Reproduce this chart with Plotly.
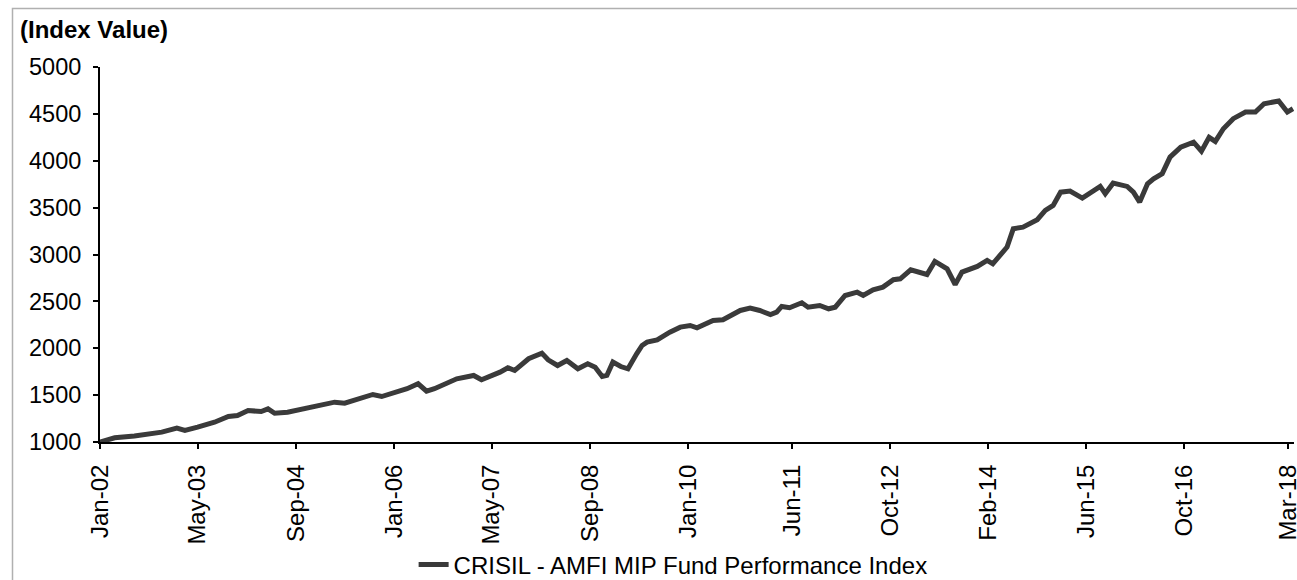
import plotly.graph_objects as go

dates = [
    "2002-01-01", "2002-03-15", "2002-06-21", "2002-09-01", "2002-11-04", "2003-01-18", "2003-02-27",
    "2003-05-01", "2003-07-24", "2003-10-01", "2003-11-15", "2004-01-07", "2004-03-12", "2004-04-15",
    "2004-05-18", "2004-07-21", "2004-10-01", "2005-01-10", "2005-03-12", "2005-05-01", "2005-07-15",
    "2005-09-18", "2005-11-01", "2006-03-07", "2006-05-01", "2006-06-12", "2006-07-21", "2006-11-09",
    "2007-02-01", "2007-03-12", "2007-06-12", "2007-07-21", "2007-08-24", "2007-11-01", "2008-01-06",
    "2008-02-06", "2008-03-24", "2008-05-09", "2008-07-03", "2008-08-21", "2008-09-27", "2008-11-01",
    "2008-11-24", "2008-12-24", "2009-02-01", "2009-03-09", "2009-04-21", "2009-05-18", "2009-06-12",
    "2009-08-01", "2009-10-03", "2009-11-24", "2010-01-12", "2010-02-15", "2010-05-06", "2010-06-24",
    "2010-09-18", "2010-11-06", "2010-12-24", "2011-02-15", "2011-03-18", "2011-04-12", "2011-05-21",
    "2011-07-21", "2011-08-21", "2011-10-18", "2011-12-01", "2012-01-03", "2012-02-21", "2012-04-21",
    "2012-05-21", "2012-07-09", "2012-08-27", "2012-10-18", "2012-11-21", "2013-01-12", "2013-04-03",
    "2013-05-12", "2013-07-12", "2013-08-21", "2013-09-24", "2013-12-09", "2014-01-27", "2014-02-24",
    "2014-05-06", "2014-06-06", "2014-07-24", "2014-10-03", "2014-11-12", "2014-12-21", "2015-01-27",
    "2015-03-15", "2015-05-15", "2015-06-24", "2015-08-12", "2015-09-06", "2015-10-15", "2015-12-24",
    "2016-01-24", "2016-02-24", "2016-04-03", "2016-05-03", "2016-06-15", "2016-07-24", "2016-09-15",
    "2016-11-18", "2016-12-27", "2017-02-03", "2017-03-06", "2017-04-15", "2017-06-03", "2017-08-03",
    "2017-09-21", "2017-11-03", "2018-01-15", "2018-02-27", "2018-03-27",
]

index_values = [
    1000, 1045, 1065, 1085, 1105, 1148, 1123,
    1158, 1211, 1272, 1283, 1336, 1325, 1354,
    1307, 1318, 1354, 1400, 1425, 1414, 1461,
    1507, 1485, 1568, 1621, 1542, 1568, 1674,
    1710, 1664, 1745, 1792, 1763, 1888, 1948,
    1877, 1816, 1870, 1781, 1834, 1798, 1699,
    1710, 1852, 1805, 1781, 1941, 2030, 2065,
    2090, 2172, 2225, 2243, 2218, 2296, 2304,
    2403, 2428, 2403, 2360, 2385, 2446, 2432,
    2485, 2438, 2456, 2421, 2438, 2563, 2598,
    2563, 2624, 2652, 2731, 2741, 2837, 2787,
    2926, 2848, 2680, 2812, 2873, 2937, 2901,
    3079, 3275, 3292, 3371, 3470, 3523, 3665,
    3676, 3601, 3655, 3726, 3648, 3761, 3726,
    3665, 3559, 3755, 3808, 3862, 4039, 4146,
    4199, 4103, 4250, 4206, 4342, 4449, 4519,
    4519, 4608, 4637, 4519, 4555,
]

tick_dates = ["2002-01-01", "2003-05-01", "2004-09-01", "2006-01-01", "2007-05-01", "2008-09-01",
              "2010-01-01", "2011-06-01", "2012-10-01", "2014-02-01", "2015-06-01", "2016-10-01",
              "2018-03-01"]
tick_labels = ["Jan-02", "May-03", "Sep-04", "Jan-06", "May-07", "Sep-08", "Jan-10", "Jun-11",
               "Oct-12", "Feb-14", "Jun-15", "Oct-16", "Mar-18"]

series_name = "CRISIL - AMFI MIP Fund Performance Index"
FONT = "Liberation Sans, Arial, sans-serif"

W, H = 1297, 580
L, R, T, B = 100, 3, 67, 138
PW, PH = W - L - R, H - T - B

fig = go.Figure()
fig.add_trace(go.Scatter(
    x=dates, y=index_values, mode="lines", name=series_name,
    line=dict(color="#3a3a3a", width=5),
))

fig.update_layout(
    width=W, height=H,
    margin=dict(l=L, r=R, t=T, b=B, autoexpand=False),
    paper_bgcolor="white", plot_bgcolor="white",
    font=dict(family=FONT, size=23, color="black"),
    showlegend=True,
    legend=dict(orientation="h", x=0.48, xanchor="center", y=-0.328, yanchor="middle",
                font=dict(size=24), bgcolor="rgba(0,0,0,0)"),
    xaxis=dict(
        type="date", range=["2002-01-01", "2018-04-01"], automargin=False,
        tickvals=tick_dates, ticktext=tick_labels, tickangle=-90,
        ticks="outside", ticklen=5, tickwidth=1.5, tickcolor="black",
        showline=True, linecolor="black", linewidth=2, showgrid=False, zeroline=False,
        tickfont=dict(size=24), ticklabelstandoff=6, ticklabeloverflow="allow",
    ),
    yaxis=dict(
        range=[1000, 5000], dtick=500, tickformat="d", automargin=False,
        ticks="outside", ticklen=5, tickwidth=1.5, tickcolor="black",
        showline=True, linecolor="black", linewidth=2, showgrid=False, zeroline=False,
        tickfont=dict(size=23.5), ticklabelstandoff=7,
    ),
    shapes=[dict(type="rect", xref="paper", yref="paper",
                 x0=(12.5 - L) / PW, x1=1.05, y0=-0.6, y1=(T + PH - 8.5) / PH,
                 line=dict(color="#b0b0b0", width=1.5), fillcolor="rgba(0,0,0,0)", layer="below")],
    annotations=[dict(text="<b>(Index Value)</b>", xref="paper", yref="paper",
                      x=(18 - L) / PW, xanchor="left", y=(T + PH - 30) / PH, yanchor="middle",
                      showarrow=False, font=dict(size=24, family=FONT))],
)

fig.write_html(
    "out.html",
    config={"displayModeBar": False},
    post_script="document.body.style.margin='0';document.body.style.overflow='hidden';",
)
